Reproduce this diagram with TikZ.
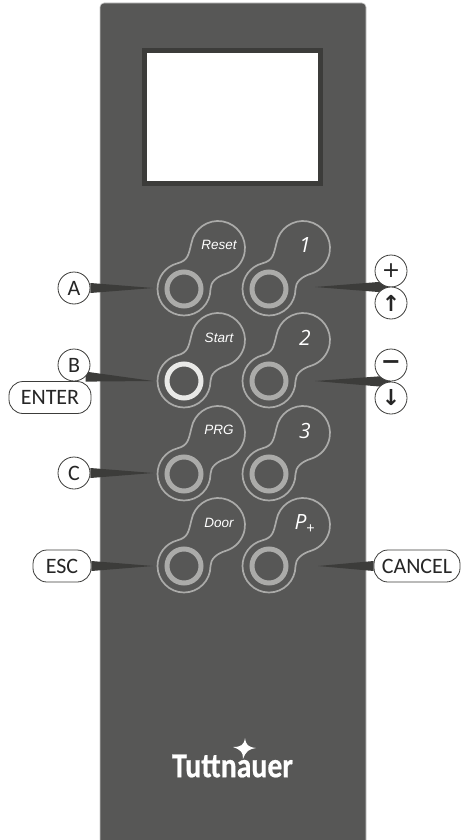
\documentclass[tikz,border=0pt]{standalone}
\usepackage{fontspec}
\setmainfont{Carlito}
\newfontfamily\keyfont{Liberation Sans}
\newfontfamily\numfont{Open Sans}
\newfontfamily\symfont{DejaVu Sans}
\newfontfamily\logofont[BoldFeatures={FakeBold=0.6}]{Carlito}
\usetikzlibrary{backgrounds, calc}
\definecolor{panelgray}{HTML}{575756}
\definecolor{rimgray}{HTML}{3C3C3A}
\definecolor{ringgray}{HTML}{ABABA9}
\definecolor{ringlit}{HTML}{E9E9E7}
\tikzset{
    x=1pt, y=1pt,
    lbl/.style={circle,draw=rimgray,fill=white,line width=0.8pt,minimum size=32pt,inner sep=0pt,text=black!85,font=\fontsize{22}{22}\selectfont},
    lblbox/.style={lbl,rectangle,rounded corners=14pt,minimum size=0pt,minimum height=32pt},
    ring/.style={circle,draw=ringgray,line width=5pt,minimum size=34pt,inner sep=0pt},
    ringon/.style={ring,draw=ringlit},
    bone/.style={draw=ringgray,line width=1.7pt},
    keytext/.style={text=white,font=\keyfont\itshape\fontsize{13.5}{13.5}\selectfont},
    keynum/.style={text=white,font=\numfont\itshape\fontsize{21}{21}\selectfont},
    sym/.style={font=\symfont\bfseries\fontsize{#1}{#1}\selectfont},
    ptr/.style={fill=rimgray},
}
% one key: outline around the ring at #1
\newcommand{\keyshape}[1]{
    \draw[bone,shift={(#1)}] (26.5,0) arc[start angle=0,end angle=-255.5,radius=26.5]
        .. controls (4,28.5) and (4.5,34) .. (7.4,45.7)
        arc[start angle=170,end angle=-73,radius=27]
        .. controls (32.9,12.5) and (26.5,7) .. cycle;
}
\newcommand{\wedgeptr}[3]{
    \fill[ptr] ($(#1)+(0,#3)$) -- (#2) -- ($(#1)+(0,-#3)$) -- cycle;
}
\begin{document}
\begin{tikzpicture}
\useasboundingbox (0,0) rectangle (476,-840);
% rings
\node[ring] (reset) at (184,-289) {};
\node[ringon] (start) at (184,-381) {};
\node[ring] (prg) at (184,-474) {};
\node[ring] (door) at (184,-566) {};
\node[ring] (one) at (269,-289) {};
\node[ring] (two) at (269,-381) {};
\node[ring] (three) at (269,-474) {};
\node[ring] (pplus) at (269,-566) {};
\keyshape{reset} \keyshape{start} \keyshape{prg} \keyshape{door}
\keyshape{one} \keyshape{two} \keyshape{three} \keyshape{pplus}
% key texts
\node[keytext] (tReset) at (219,-245) {Reset};
\node[keytext] (tStart) at (219,-338) {Start};
\node[keytext] (tPrg) at (219,-430) {PRG};
\node[keytext] (tDoor) at (219,-523) {Door};
\node[keynum] (tOne) at (305,-245) {1};
\node[keynum] (tTwo) at (305,-338) {2};
\node[keynum] (tThree) at (305,-431) {3};
\node[keynum] (tP) at (305,-524) {P\textsubscript{\upshape+}};
% screen
\node[draw=rimgray,fill=white,line width=5pt,minimum width=176pt,minimum height=133pt,inner sep=0pt] (screen) at (232.5,-117) {};
% logo
\node[text=white,font=\logofont\bfseries\fontsize{35}{35}\selectfont,inner sep=0pt,xscale=0.85] (logo) at (232.5,-766) {Tuttnauer};
\fill[white] (245,-738) .. controls (246,-745) and (248,-747) .. (256,-748)
    .. controls (249,-749) and (246,-751) .. (243,-759)
    .. controls (243,-752) and (241,-750) .. (233,-747)
    .. controls (241,-747) and (244,-745) .. cycle;
% labels
\node[lbl] (A) at (74,-288) {A};
\node[lbl] (B) at (74,-365) {B};
\node[lblbox,minimum width=82pt] (enter) at (50,-397.5) {ENTER};
\node[lbl] (C) at (74,-473) {C};
\node[lblbox,minimum width=58pt] (esc) at (62,-566) {ESC};
\node[lbl] (plus) at (391,-271) {\symfont\fontsize{22}{22}\selectfont +};
\node[lbl,sym=22] (up) at (391,-303) {↑};
\node[lbl,sym=24] (minus) at (391,-365) {−};
\node[lbl,sym=22] (down) at (391,-398) {↓};
\node[lblbox,minimum width=86pt] (cancel) at (417,-566) {CANCEL};
% pointer tips
\coordinate (tipA) at (153,-288);
\coordinate (tipB) at (153,-381);
\coordinate (tipC) at (153,-473);
\coordinate (tipE) at (153,-566);
\coordinate (tipU) at (315,-287);
\coordinate (tipD) at (315,-381);
\coordinate (tipX) at (318,-566);
\coordinate (midU) at ($(plus)!0.5!(up)$);
\coordinate (midD) at ($(minus)!0.5!(down)$);
\begin{scope}[on background layer]
    \fill[panelgray,draw=black!22,line width=0.6pt,rounded corners=4pt] (100,-3) rectangle (366,-850);
    \wedgeptr{A.east}{tipA}{5}
    \wedgeptr{B.south east}{tipB}{5}
    \wedgeptr{C.east}{tipC}{5}
    \wedgeptr{esc.east}{tipE}{5}
    \wedgeptr{midU}{tipU}{6}
    \wedgeptr{midD}{tipD}{6}
    \wedgeptr{cancel.west}{tipX}{5}
\end{scope}
\end{tikzpicture}
\end{document}
